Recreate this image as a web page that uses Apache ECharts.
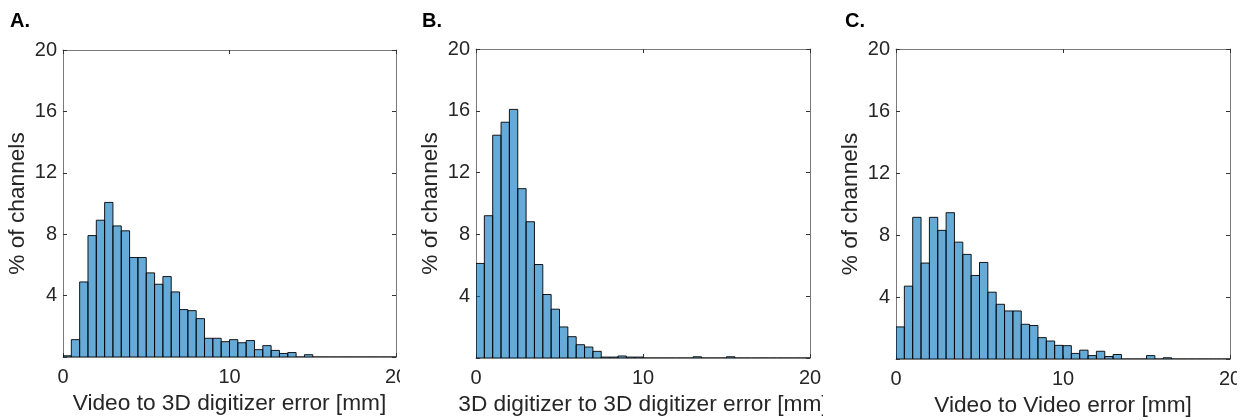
<!DOCTYPE html>
<html><head><meta charset="utf-8">
<script src="https://cdn.jsdelivr.net/npm/echarts@6/dist/echarts.min.js"></script>
<style>
html,body{margin:0;padding:0;background:#fff;width:1246px;height:420px;overflow:hidden;position:relative}
.panel{position:absolute;top:0;height:420px;overflow:hidden}
</style></head><body>
<div id="pA" class="panel" style="left:0;width:400px"></div>
<div id="pB" class="panel" style="left:400px;width:423px"></div>
<div id="pC" class="panel" style="left:823px;width:414px"></div>
<script>
// ---- data ----
const BIN_START = 0;      // mm
const BIN_WIDTH = 0.5;    // mm
const xTickValues = [0, 10, 20];
const yTickValues = [0, 4, 8, 12, 16, 20];
const panelLetters = ['A.', 'B.', 'C.'];
const xTitles = ['Video to 3D digitizer error [mm]', '3D digitizer to 3D digitizer error [mm]', 'Video to Video error [mm]'];
const yTitle = '% of channels';
const valuesA = [0.08,1.13,4.89,7.91,8.91,10.07,8.54,8.22,6.48,6.48,5.48,4.74,5.24,4.24,3.09,3.02,2.5,1.22,1.22,1.0,1.13,0.93,1.07,0.48,0.74,0.43,0.23,0.29,0,0.15,0,0,0,0,0,0,0,0,0,0];
const valuesB = [6.12,9.21,14.42,15.26,16.09,10.96,8.82,6.05,4.11,3.16,2.01,1.38,0.86,0.71,0.43,0.06,0.06,0.13,0.06,0.06,0,0,0,0,0,0,0.08,0,0,0,0.08,0,0,0,0,0,0,0,0,0];
const valuesC = [2.07,4.7,9.14,6.19,9.14,8.30,9.44,7.54,6.75,5.39,6.23,4.31,3.53,3.10,3.10,2.24,2.16,1.38,1.16,0.88,0.86,0.36,0.57,0.22,0.50,0.16,0.29,0,0,0,0.22,0,0.08,0,0,0,0,0,0,0];

// ---- layout / style ----
const FONT = 'Liberation Sans, Arial, Helvetica, sans-serif';
const TXT = '#262626';
const AX = '#7a7a7a';
const layouts = [
  {el:'pA', grid:{left:63, right:4, top:50, bottom:63}, letterLeft:5},
  {el:'pB', grid:{left:76, right:13, top:49, bottom:62}, letterLeft:17},
  {el:'pC', grid:{left:73, right:7, top:49, bottom:61}, letterLeft:17}
];
const allValues = [valuesA, valuesB, valuesC];

function makeOption(values, idx) {
  const L = layouts[idx];
  const data = values.map((v, i) => [BIN_START + i * BIN_WIDTH, v]);
  const baseX = {
    type:'value', min:xTickValues[0], max:xTickValues[xTickValues.length-1], interval:xTickValues[1]-xTickValues[0],
    axisLine:{show:true, onZero:false, lineStyle:{color:AX, width:1}},
    axisTick:{show:true, inside:true, length:4, lineStyle:{color:'#333'}},
    splitLine:{show:false}
  };
  const baseY = {
    type:'value', min:yTickValues[0], max:yTickValues[yTickValues.length-1], interval:yTickValues[1]-yTickValues[0],
    axisLine:{show:true, onZero:false, lineStyle:{color:AX, width:1}},
    axisTick:{show:true, inside:true, length:4, lineStyle:{color:'#333'}},
    splitLine:{show:false}
  };
  return {
    animation:false,
    textStyle:{fontFamily:FONT},
    title:{text:panelLetters[idx], left:L.letterLeft, top:6,
      textStyle:{fontFamily:FONT, fontSize:20, fontWeight:'bold', color:'#000'}},
    grid:Object.assign({outerBoundsMode:'none', containLabel:false}, L.grid),
    xAxis:[
      Object.assign({}, baseX, {position:'bottom',
        name:xTitles[idx], nameLocation:'middle', nameGap:35, nameMoveOverlap:false,
        nameTextStyle:{fontFamily:FONT, fontSize:22.7, color:TXT},
        axisLabel:{show:true, margin:10, fontFamily:FONT, fontSize:20, color:TXT,
          showMinLabel:true, showMaxLabel:true, hideOverlap:false}}),
      Object.assign({}, baseX, {position:'top', axisLabel:{show:false}})
    ],
    yAxis:[
      Object.assign({}, baseY, {position:'left',
        name:yTitle, nameLocation:'middle', nameGap:34, nameMoveOverlap:false,
        nameTextStyle:{fontFamily:FONT, fontSize:22.7, color:TXT},
        axisLabel:{show:true, margin:6, fontFamily:FONT, fontSize:20, color:TXT,
          formatter:v => (v === 0 ? '' : String(v))}}),
      Object.assign({}, baseY, {position:'right', axisLabel:{show:false}})
    ],
    series:[{
      type:'custom',
      xAxisIndex:0, yAxisIndex:0,
      clip:true,
      data:data,
      renderItem:function(params, api){
        const x0 = api.value(0);
        const v = api.value(1);
        const p1 = api.coord([x0, v]);
        const p2 = api.coord([x0 + BIN_WIDTH, 0]);
        return {
          type:'rect',
          shape:{x:p1[0], y:p1[1], width:p2[0]-p1[0], height:p2[1]-p1[1]},
          style:{fill:'rgba(0,114,189,0.6)', stroke:'#000', lineWidth:0.9}
        };
      }
    }]
  };
}

layouts.forEach((L, i) => {
  const chart = echarts.init(document.getElementById(L.el), null, {renderer:'canvas'});
  chart.setOption(makeOption(allValues[i], i));
});
</script>
</body></html>
